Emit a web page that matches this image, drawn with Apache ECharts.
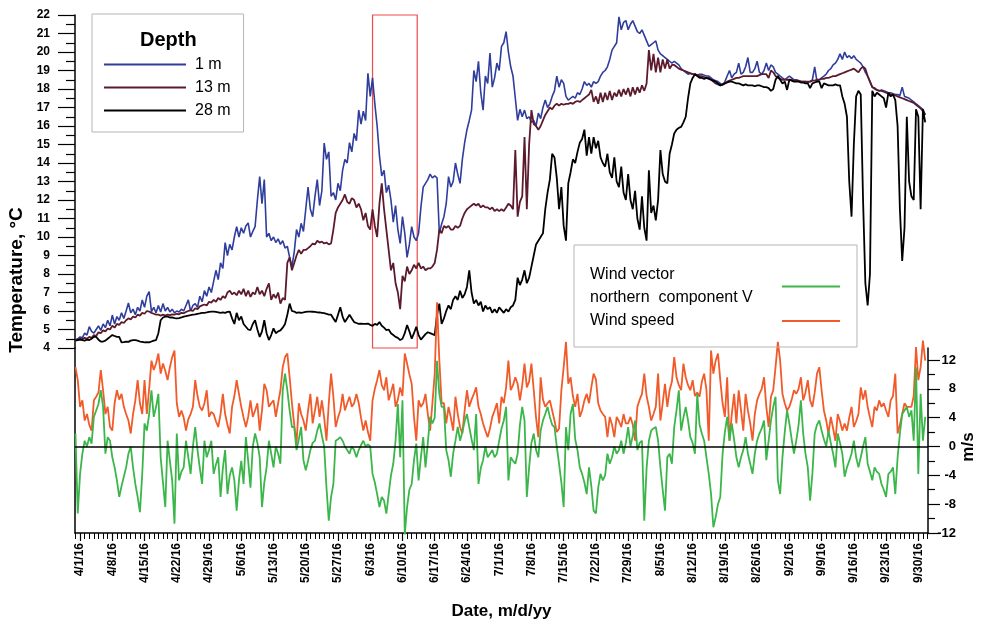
<!DOCTYPE html>
<html>
<head>
<meta charset="utf-8">
<title>Water temperature and wind, April–September 2016</title>
<script src="https://cdn.jsdelivr.net/npm/echarts@6.0.0/dist/echarts.min.js"></script>
<style>
  html, body { margin: 0; padding: 0; background: #ffffff; }
  #chart { width: 986px; height: 625px; }
</style>
</head>
<body>
<div id="chart"></div>
<script>
// Samples every 12 hours, starting at 3/31/16 00:00 (day 0 = 4/1/16).
const START_DAY = -1.0;
const STEP = 0.5;

const dateLabels = ['4/1/16','4/8/16','4/15/16','4/22/16','4/29/16','5/6/16','5/13/16','5/20/16','5/27/16',
  '6/3/16','6/10/16','6/17/16','6/24/16','7/1/16','7/8/16','7/15/16','7/22/16','7/29/16','8/5/16',
  '8/12/16','8/19/16','8/26/16','9/2/16','9/9/16','9/16/16','9/23/16','9/30/16'];

const windTicks = [-12, -8, -4, 0, 4, 8, 12];
const windMinorTicks = [-10, -6, -2, 2, 6, 10];

// Period outlined on the temperature panel (days from 4/1/16)
const boxDays = [63.5, 73.2];

// Temperature, °C — 1 m depth
const temp1m = [
  4.43,4.5,4.6,4.55,4.8,4.7,5.15,4.9,4.8,5.0,5.2,4.95,5.3,5.1,5.5,5.2,5.78,5.3,5.7,5.5,
  5.9,5.6,6.0,6.43,5.9,6.1,5.8,6.2,6.0,6.6,6.2,6.8,7.05,5.97,6.2,5.9,6.3,5.95,6.4,6.0,
  6.2,5.95,6.1,5.9,6.0,5.95,6.1,6.0,6.3,6.6,6.0,6.3,6.4,6.2,6.8,6.5,7.1,6.8,7.3,7.0,
  7.6,8.2,7.7,8.6,8.3,9.7,9.0,9.6,9.3,10.0,10.56,10.0,10.5,10.2,10.6,10.76,10.0,10.3,10.56,12.0,
  13.26,11.8,13.1,10.0,10.2,9.8,10.0,9.7,9.9,9.6,9.8,9.4,9.5,8.9,8.4,9.2,10.4,10.0,10.74,10.3,
  11.5,12.7,11.5,11.1,12.2,13.1,11.7,12.5,15.08,14.2,14.6,12.2,12.4,12.0,12.9,12.5,13.6,14.2,14.0,15.1,
  14.6,15.6,15.2,16.86,16.1,16.8,16.3,18.85,17.6,18.6,17.2,16.0,14.4,13.3,13.6,12.4,12.8,12.0,10.8,11.7,
  10.4,9.65,11.1,10.2,8.9,9.6,10.56,10.0,9.8,10.2,11.6,12.7,12.9,13.1,13.4,13.2,13.3,13.2,10.2,10.7,
  11.1,11.8,13.26,12.7,13.0,14.0,13.4,12.9,14.2,15.1,15.8,16.3,16.86,19.0,18.4,19.5,17.8,16.86,18.7,18.3,
  19.94,18.1,18.6,19.4,19.0,20.3,20.5,21.1,20.0,19.2,18.7,17.5,16.3,16.9,16.5,16.86,16.4,16.5,16.2,16.3,
  16.0,16.7,16.4,17.0,17.4,17.0,17.2,17.6,17.9,18.7,18.1,18.5,18.3,17.6,17.4,17.5,17.6,17.5,17.8,17.7,
  18.0,18.4,18.2,18.3,18.1,18.4,18.3,18.4,18.7,18.9,19.0,19.2,19.6,20.1,20.3,20.5,21.9,21.2,21.6,21.7,
  21.2,21.5,21.7,21.4,21.1,21.0,21.2,20.9,20.6,20.3,20.4,20.5,20.6,20.1,19.9,19.8,19.7,19.6,19.5,19.4,
  19.5,19.4,19.3,19.1,19.0,18.9,18.8,18.85,18.8,18.8,18.75,18.8,18.8,18.75,18.7,18.7,18.6,18.5,18.45,18.4,
  18.3,18.2,18.4,18.7,19.0,18.6,18.8,18.9,19.4,18.8,18.9,19.2,19.7,18.9,18.9,19.1,19.5,18.9,18.8,19.0,
  19.4,19.0,19.3,19.2,18.9,18.8,18.7,18.6,18.5,18.6,18.7,18.6,18.5,18.5,18.45,18.4,18.4,18.4,18.35,18.4,
  18.5,19.2,18.4,18.5,18.6,18.7,18.8,19.0,19.1,19.3,19.4,19.6,19.9,19.6,20.0,19.7,19.8,19.65,19.8,19.6,
  19.5,19.4,19.2,18.9,18.7,18.4,18.1,18.0,17.95,17.9,17.95,17.9,17.85,17.8,17.8,17.75,17.7,17.7,17.65,18.1,
  17.6,17.55,17.5,17.4,17.3,17.2,17.1,17.0,16.9,16.6
];

// Temperature, °C — 13 m depth
const temp13m = [
  4.43,4.45,4.5,4.48,4.55,4.5,4.6,4.55,4.7,4.65,4.85,4.8,4.95,4.9,5.05,5.0,5.2,5.1,5.3,5.25,
  5.4,5.35,5.5,5.6,5.55,5.7,5.65,5.8,5.75,5.9,5.85,6.0,5.97,5.9,5.85,5.8,5.8,5.75,5.8,5.75,
  5.8,5.78,5.82,5.8,5.85,5.82,5.9,5.88,5.95,6.0,6.05,6.0,6.15,6.1,6.25,6.3,6.35,6.3,6.5,6.45,
  6.6,6.5,6.7,6.6,6.8,6.7,7.0,7.1,6.9,7.0,6.85,7.1,6.9,7.2,6.8,7.1,6.76,7.0,6.9,7.3,
  6.9,7.1,6.8,7.2,7.5,6.6,6.9,6.7,7.0,6.4,6.7,6.6,8.6,8.9,8.2,8.6,9.0,9.3,9.1,9.3,
  9.3,9.4,9.5,9.65,9.6,9.8,9.7,9.75,9.65,9.7,9.6,9.65,10.4,11.3,11.6,11.8,12.0,12.3,11.9,11.8,
  12.1,12.0,11.6,11.8,11.5,10.9,11.3,10.6,10.4,11.5,10.6,10.0,11.8,12.9,11.5,10.4,9.3,8.2,8.6,7.5,
  7.0,6.1,7.9,7.6,8.4,8.0,8.2,8.5,8.3,8.6,8.3,8.4,8.2,8.3,8.3,8.4,8.6,9.3,10.4,10.2,
  10.6,10.5,10.6,10.4,10.4,10.6,10.5,10.6,11.0,11.3,11.5,11.6,11.7,11.8,11.7,11.8,11.6,11.7,11.6,11.6,
  11.5,11.6,11.4,11.5,11.4,11.5,11.4,11.6,11.8,11.7,11.5,14.7,11.1,11.9,12.2,15.4,11.5,15.0,16.86,16.1,
  16.0,15.8,16.0,16.3,16.6,16.8,17.0,16.9,17.1,17.2,17.1,17.2,17.15,17.2,17.2,17.25,17.2,17.3,17.35,17.3,
  17.4,17.5,17.6,17.7,17.95,17.3,17.6,17.2,17.8,17.3,17.8,17.4,17.9,17.4,17.8,17.6,17.95,17.6,18.0,17.7,
  18.05,17.6,18.1,17.7,18.1,17.8,18.2,17.9,18.3,20.1,19.0,19.9,18.9,19.7,18.9,19.6,19.1,19.6,19.1,19.3,
  19.3,19.2,19.1,19.05,19.0,18.95,18.9,18.85,18.8,18.8,18.75,18.7,18.7,18.65,18.6,18.6,18.5,18.4,18.3,18.25,
  18.2,18.25,18.3,18.4,18.45,18.5,18.55,18.6,18.6,18.65,18.7,18.7,18.7,18.7,18.7,18.7,18.7,18.75,18.8,18.8,
  18.8,18.6,19.0,18.9,18.7,18.6,18.55,18.5,18.5,18.5,18.5,18.5,18.45,18.45,18.45,18.4,18.4,18.4,18.4,18.4,
  18.45,18.45,18.5,18.5,18.55,18.55,18.6,18.6,18.65,18.7,18.7,18.75,18.8,18.85,18.9,18.95,19.0,19.05,19.1,19.0,
  18.9,19.1,19.2,19.1,18.7,18.4,18.1,18.05,17.95,17.9,17.9,17.85,17.8,17.75,17.7,17.7,17.65,17.6,17.55,17.5,
  17.45,17.4,17.35,17.3,17.25,17.15,17.05,16.95,16.8,16.6
];

// Temperature, °C — 28 m depth
const temp28m = [
  4.4,4.42,4.45,4.43,4.4,4.45,4.43,4.5,4.6,4.6,4.45,4.35,4.35,4.4,4.5,4.6,4.7,4.65,4.6,4.6,
  4.3,4.32,4.35,4.33,4.4,4.43,4.43,4.4,4.35,4.33,4.3,4.32,4.3,4.35,4.4,4.43,4.8,5.5,5.65,5.7,
  5.7,5.65,5.65,5.62,5.6,5.62,5.65,5.7,5.72,5.75,5.78,5.8,5.82,5.85,5.87,5.9,5.9,5.92,5.95,5.97,
  5.97,5.95,5.93,5.9,5.92,5.9,5.95,5.97,5.6,5.3,5.9,5.5,5.7,5.3,5.15,5.0,4.97,5.3,5.5,5.0,
  4.6,4.9,5.5,4.8,4.43,4.7,5.06,4.8,4.9,4.95,5.1,5.3,5.8,6.4,6.0,5.97,5.9,5.92,5.9,5.92,
  5.95,5.97,5.97,5.96,5.95,5.93,5.92,5.9,5.88,5.85,5.8,5.8,5.6,5.4,5.8,6.2,5.7,5.4,5.6,5.8,
  5.6,5.4,5.35,5.3,5.32,5.3,5.3,5.32,5.25,5.2,5.3,5.25,5.4,5.2,5.1,4.97,5.0,4.8,4.7,4.6,
  4.55,4.43,4.5,4.8,5.24,4.9,4.5,4.8,5.15,4.7,4.45,4.6,4.75,4.85,4.8,4.75,4.7,5.8,6.4,5.3,
  5.6,6.0,6.3,6.1,6.6,6.8,6.6,7.1,6.7,6.9,7.3,8.2,7.0,6.4,6.6,6.3,6.5,5.97,6.3,6.1,
  6.2,5.9,6.1,5.9,6.2,6.05,5.9,6.1,5.97,6.2,6.3,6.6,7.8,7.4,7.7,8.2,7.5,7.8,8.4,9.0,
  9.6,9.8,10.0,10.2,11.5,12.4,13.1,14.5,14.3,13.2,11.5,12.7,10.6,9.8,12.9,13.5,14.2,14.0,14.6,15.1,
  15.3,15.8,14.4,15.4,14.5,15.4,14.8,15.2,14.3,14.0,13.8,14.5,13.5,13.2,14.3,13.0,12.7,13.8,12.4,12.0,
  13.4,12.0,11.5,12.5,11.0,10.4,12.2,10.5,9.8,13.6,11.3,11.7,10.9,12.0,14.7,13.4,13.0,12.9,14.5,15.0,
  15.6,15.8,15.9,15.95,16.2,16.5,17.5,18.3,18.6,18.8,18.7,18.6,18.6,18.55,18.6,18.55,18.5,18.45,18.4,18.3,
  18.2,18.25,18.3,18.35,18.4,18.4,18.35,18.3,18.3,18.25,18.2,18.25,18.2,18.2,18.2,18.15,18.2,18.2,18.15,18.1,
  18.1,18.05,17.9,18.0,18.5,18.7,18.5,18.3,18.4,17.95,18.5,18.45,18.4,18.4,18.4,18.35,18.35,18.3,18.3,18.05,
  18.3,18.35,18.4,18.4,18.05,18.3,18.25,18.2,18.2,18.2,18.25,18.2,18.2,17.6,17.2,16.5,13.0,11.1,15.0,17.6,
  17.9,17.7,12.0,7.5,6.3,8.0,17.9,17.6,17.8,17.7,17.6,17.5,17.0,17.8,17.6,17.7,17.4,16.0,11.5,8.7,
  10.5,16.5,13.0,12.2,12.0,16.9,16.5,11.5,16.9,16.2
];

// Wind speed, m/s
const windSpeed = [
  11.0,9.2,5.5,6.4,3.6,4.5,3.0,2.2,6.4,6.9,7.5,10.6,7.8,4.5,5.5,2.7,2.2,6.0,7.8,6.5,
  7.3,5.5,4.5,3.6,1.8,4.5,6.4,9.2,6.0,4.5,9.2,4.5,8.0,11.9,10.6,11.5,12.9,10.1,11.5,10.5,
  9.2,11.0,12.4,13.3,6.0,4.1,5.0,4.0,2.2,3.8,4.5,5.5,9.2,7.0,5.5,5.0,6.0,7.8,4.1,4.8,
  4.5,3.5,2.7,4.5,7.3,4.5,3.0,1.8,5.5,7.0,9.2,7.3,5.5,4.0,2.7,4.1,6.4,4.1,5.0,6.0,
  2.2,5.0,8.7,7.8,5.5,6.0,6.4,4.1,6.0,7.8,11.0,12.4,12.9,9.6,6.0,3.0,0.4,6.0,4.5,3.6,
  2.2,5.0,7.3,3.2,5.0,6.9,4.1,6.4,4.0,0.8,6.0,10.1,6.9,2.7,4.0,5.0,7.3,5.0,6.0,6.9,
  5.5,6.0,7.3,6.0,4.0,2.2,3.6,2.0,0.8,6.4,8.0,9.2,10.6,8.5,7.8,9.6,6.4,7.5,8.7,5.5,
  6.5,8.2,7.0,12.9,11.5,10.0,8.7,4.1,0.8,6.4,5.5,6.0,7.3,4.5,2.2,6.0,10.1,20.0,12.0,6.0,
  6.0,3.2,5.5,4.0,2.2,6.9,4.5,2.7,1.8,5.0,7.8,5.5,6.5,7.3,8.2,5.5,4.5,3.2,2.2,1.3,
  2.5,4.1,5.0,6.0,3.2,6.9,6.0,8.2,11.9,7.8,8.5,9.6,8.7,6.4,8.5,11.5,8.2,9.0,11.5,7.8,
  4.0,1.3,9.6,6.5,5.5,6.0,6.4,5.0,3.6,2.0,2.5,7.8,11.0,14.5,8.7,9.6,7.0,5.5,7.3,4.1,
  5.0,6.4,7.3,6.0,8.2,10.1,9.3,6.0,5.0,4.5,4.1,1.3,4.1,3.0,1.3,4.1,3.5,2.7,4.5,3.2,
  3.2,4.1,3.0,0.8,5.5,6.5,7.3,10.1,7.0,5.5,3.6,4.5,5.5,10.1,3.6,6.0,8.7,5.5,7.8,9.0,
  12.4,9.6,8.5,7.8,11.5,9.6,8.5,7.8,9.2,7.0,7.5,6.9,9.0,10.1,7.8,0.8,13.3,10.1,11.9,12.9,
  9.2,6.0,4.1,9.6,0.8,4.5,7.3,3.2,7.8,5.0,2.2,7.3,5.0,3.2,0.8,4.5,6.4,7.3,8.0,9.6,
  5.5,2.7,6.9,7.8,11.0,14.5,11.9,7.3,6.0,5.0,5.5,6.5,7.8,7.3,8.0,9.6,6.4,7.5,9.2,6.4,
  5.5,7.5,10.1,11.0,7.8,5.0,3.6,1.8,4.1,2.5,0.8,4.5,3.5,2.2,3.2,2.2,4.0,5.5,2.7,3.5,
  4.5,8.2,6.5,7.8,5.5,4.0,2.7,5.5,5.0,6.4,5.5,6.0,5.0,4.1,6.4,7.0,10.1,1.8,3.0,4.5,
  6.0,5.5,5.5,5.5,7.0,13.8,9.2,11.0,14.7,11.9
];

// Wind vector, northern component V, m/s
const windV = [
  1.8,-9.3,-3.8,-1.0,0.8,0,1.3,0.4,4.1,5.0,5.9,7.8,5.5,-1.0,1.3,0.8,-1.5,-2.9,-4.7,-7.0,
  -5.5,-4.2,-2.9,-1.0,0,-2.9,-5.2,-7.0,-9.1,-3.8,3.2,2.2,4.5,7.8,4.1,5.5,7.3,-1.5,-5.0,-8.4,
  0.8,-2.0,-4.7,-10.7,1.8,-4.7,-3.5,-2.9,0.8,-1.5,-3.8,0,2.7,-0.5,-3.0,-5.2,0.8,-1.5,-0.5,0.8,
  -3.8,-2.5,-1.5,-7.0,-3.0,-0.5,-6.6,-4.0,-2.9,-4.7,-8.9,-4.7,-2.0,-5.2,1.3,-2.0,-5.7,0,1.8,0.5,
  -1.5,-8.4,-5.0,-2.9,0.8,-1.0,-2.9,0,-1.0,-2.4,7.8,10.1,7.8,5.0,2.7,2.7,-0.5,1.0,2.7,-1.9,
  -3.3,-2.0,-0.5,0.5,0.8,2.2,3.2,1.5,0,-5.7,-10.3,-7.0,-5.2,0.8,1.0,1.3,0.8,0,-0.5,-1.0,
  0,-0.5,-1.5,-0.5,0.2,0.8,0,0.3,0,-3.8,-5.0,-6.6,-8.4,-7.0,-7.5,-9.3,-6.6,-4.0,-2.4,0.8,
  5.9,-1.5,6.4,-12.2,-8.4,-6.0,-5.2,-1.9,0.4,-4.7,-1.5,1.3,-2.9,0.5,4.1,3.2,4.0,11.9,7.3,5.5,
  5.5,-0.5,-1.9,-4.2,-1.0,0.8,2.7,0.8,2.0,3.5,4.5,2.7,1.0,-0.5,4.5,-5.2,-3.0,-1.9,0,-1.5,
  -1.0,-0.5,-1.5,-1.0,0.8,2.5,3.6,5.5,-4.7,-1.5,-2.0,-2.4,-1.0,3.0,5.5,3.6,-7.0,-2.9,0.5,1.8,
  -0.5,-1.5,2.2,3.6,4.5,5.5,4.1,3.0,2.7,0,-2.4,-5.0,-8.4,2.7,-0.5,4.5,5.9,1.0,-0.5,-2.9,
  -3.8,-5.0,-6.6,-2.9,-5.5,-8.9,-9.3,-5.7,-3.8,-4.7,-4.0,-1.0,-2.4,-1.5,0,-1.0,-0.5,0.8,-1.0,0.5,
  2.7,0,1.5,3.6,-0.5,0.5,0.8,-10.3,-3.0,0.8,2.2,2.5,2.7,0.8,-2.9,-6.0,-8.9,-1.5,-1.0,-2.4,
  2.7,5.0,7.8,2.2,4.0,5.5,3.6,1.3,0.5,-1.0,7.3,3.0,1.8,0.8,-1.5,-3.8,-6.6,-11.2,-9.8,-8.0,
  -7.0,-1.0,2.0,4.1,0.8,3.2,1.0,-1.5,-2.9,-1.5,-0.5,1.3,-1.0,-2.4,-3.8,-1.0,0.8,1.8,2.5,3.6,
  -1.9,0.8,3.6,5.5,6.9,-4.7,-6.6,-1.5,2.0,5.0,3.2,1.0,-1.0,0.8,3.0,6.4,1.8,-1.0,-2.9,-7.5,
  -3.8,1.8,3.0,3.6,2.2,1.0,0,2.2,0.5,-1.0,-2.9,1.8,0.5,-1.0,-4.2,-2.9,-2.0,-1.0,0.8,-1.5,
  -2.9,-1.5,0,1.3,-2.4,-3.5,-4.7,-2.9,-3.5,-3.8,-5.2,-6.0,-7.0,-3.8,-3.5,-2.9,-6.6,-1.5,1.8,4.5,
  5.0,5.5,4.1,5.0,0.8,11.0,-3.8,7.3,0.8,4.1
];

const V_NAME = 'Wind vector\nnorthern  component V';
const S_NAME = 'Wind speed';

const FONT = "'Liberation Sans', Arial, sans-serif";
const toPairs = arr => arr.map((v, i) => [START_DAY + i * STEP, v]);

// Date axis: labelled tick each week, small tick each day
const X_MIN = -1.1, X_MAX = 184.1;
const weekTicks = dateLabels.map((_, k) => 7 * k);
const dayTicks = [];
for (let d = -1; d <= 184; d++) dayTicks.push(d);

const chart = echarts.init(document.getElementById('chart'), null, { renderer: 'canvas' });

const blackAxis = { show: true, onZero: false, lineStyle: { color: '#000', width: 1.5 } };
const boldText = { fontWeight: 'bold', color: '#000', fontFamily: FONT };

chart.setOption({
  animation: false,
  backgroundColor: '#fff',
  textStyle: { fontFamily: FONT, color: '#000' },
  grid: [
    { left: 75, top: 15, width: 853, height: 333 },
    { left: 75, top: 348, width: 853, height: 185 }
  ],
  graphic: [
    { type: 'text', left: 140, top: 30, style: { text: 'Depth', font: 'bold 20px ' + FONT, fill: '#000' } },
    {
      type: 'text', x: 17, y: 280, rotation: Math.PI / 2,
      style: { text: 'Temperature, °C', font: 'bold 19px ' + FONT, fill: '#000', align: 'center', verticalAlign: 'middle' }
    },
    {
      type: 'text', x: 968, y: 447, rotation: Math.PI / 2,
      style: { text: 'm/s', font: 'bold 17px ' + FONT, fill: '#000', align: 'center', verticalAlign: 'middle' }
    }
  ],
  legend: [
    {
      data: ['1 m', '13 m', '28 m'],
      left: 92, top: 14, orient: 'vertical', icon: 'rect',
      itemWidth: 82, itemHeight: 2, itemGap: 0,
      padding: [39, 13, 10, 12],
      borderColor: '#b5b5b5', borderWidth: 1,
      selectedMode: false,
      textStyle: { fontSize: 16, lineHeight: 23, color: '#000', fontFamily: FONT, padding: [0, 0, 0, 4] }
    },
    {
      data: [V_NAME, S_NAME],
      left: 574, top: 245, orient: 'vertical', align: 'right', icon: 'rect',
      itemWidth: 58, itemHeight: 2, itemGap: 7,
      padding: [22, 17, 18, 16],
      borderColor: '#b5b5b5', borderWidth: 1,
      selectedMode: false,
      formatter: name => name.split('\n').map(s => '{t|' + s + '}').join('\n'),
      textStyle: {
        color: '#000', fontFamily: FONT,
        rich: { t: { width: 187, align: 'left', fontSize: 16, lineHeight: 23, color: '#000', fontFamily: FONT } }
      }
    }
  ],
  xAxis: [
    { gridIndex: 0, type: 'value', min: X_MIN, max: X_MAX, show: false },
    {
      gridIndex: 1, type: 'value', min: X_MIN, max: X_MAX, position: 'bottom',
      axisLine: blackAxis,
      axisTick: { show: true, length: 8, customValues: weekTicks, lineStyle: { color: '#000', width: 1.2 } },
      splitLine: { show: false },
      axisLabel: {
        customValues: weekTicks, rotate: 90, margin: 10, fontSize: 12, ...boldText,
        formatter: v => dateLabels[Math.round(v / 7)]
      },
      name: 'Date, m/d/yy', nameLocation: 'middle', nameGap: 70,
      nameTextStyle: { fontSize: 17, ...boldText }
    },
    {
      gridIndex: 1, type: 'value', min: X_MIN, max: X_MAX, position: 'bottom',
      axisLine: { show: false, onZero: false },
      axisTick: { show: true, length: 6, customValues: dayTicks, lineStyle: { color: '#000', width: 1 } },
      axisLabel: { show: false }, splitLine: { show: false }
    }
  ],
  yAxis: [
    {
      gridIndex: 0, type: 'value', min: 4, max: 22, interval: 1, position: 'left',
      axisLine: blackAxis,
      axisTick: { show: true, length: 17, lineStyle: { color: '#000', width: 1.2 } },
      minorTick: { show: true, splitNumber: 2, length: 9, lineStyle: { color: '#000', width: 1.2 } },
      splitLine: { show: false },
      axisLabel: { margin: 25, fontSize: 12, ...boldText }
    },
    {
      gridIndex: 1, type: 'value', min: -12, max: 13.66, position: 'left',
      axisLine: blackAxis, axisTick: { show: false }, axisLabel: { show: false }, splitLine: { show: false }
    },
    {
      gridIndex: 1, type: 'value', min: -12, max: 13.66, position: 'right',
      axisLine: blackAxis,
      axisTick: { show: true, length: 12, customValues: windTicks, lineStyle: { color: '#000', width: 1.2 } },
      axisLabel: { customValues: windTicks, margin: 28, align: 'right', fontSize: 13, ...boldText },
      splitLine: { show: false }
    },
    {
      gridIndex: 1, type: 'value', min: -12, max: 13.66, position: 'right',
      axisLine: { show: false, onZero: false },
      axisTick: { show: true, length: 7, customValues: windMinorTicks, lineStyle: { color: '#000', width: 1.2 } },
      axisLabel: { show: false }, splitLine: { show: false }
    }
  ],
  series: [
    {
      name: '1 m', type: 'line', xAxisIndex: 0, yAxisIndex: 0, data: toPairs(temp1m),
      showSymbol: false, lineStyle: { color: '#2f3d9c', width: 1.6 }, itemStyle: { color: '#2f3d9c' }
    },
    {
      name: '13 m', type: 'line', xAxisIndex: 0, yAxisIndex: 0, data: toPairs(temp13m),
      showSymbol: false, lineStyle: { color: '#5c1b2d', width: 1.8 }, itemStyle: { color: '#5c1b2d' }
    },
    {
      name: '28 m', type: 'line', xAxisIndex: 0, yAxisIndex: 0, data: toPairs(temp28m),
      showSymbol: false, lineStyle: { color: '#000000', width: 1.8 }, itemStyle: { color: '#000000' },
      markArea: {
        silent: true,
        itemStyle: { color: 'rgba(0,0,0,0)', borderColor: '#f04a4a', borderWidth: 1.2 },
        data: [[{ xAxis: boxDays[0], yAxis: 22 }, { xAxis: boxDays[1], yAxis: 4 }]]
      }
    },
    {
      name: S_NAME, type: 'line', xAxisIndex: 1, yAxisIndex: 2, data: toPairs(windSpeed),
      clip: false, showSymbol: false, lineStyle: { color: '#f15a29', width: 1.8 }, itemStyle: { color: '#f15a29' }
    },
    {
      name: V_NAME, type: 'line', xAxisIndex: 1, yAxisIndex: 2, data: toPairs(windV),
      clip: false, showSymbol: false, lineStyle: { color: '#3cb64a', width: 1.8 }, itemStyle: { color: '#3cb64a' },
      markLine: {
        silent: true, symbol: 'none', label: { show: false },
        lineStyle: { color: '#000', width: 1.5, type: 'solid' },
        data: [{ yAxis: 0 }]
      }
    }
  ]
});
</script>
</body>
</html>
